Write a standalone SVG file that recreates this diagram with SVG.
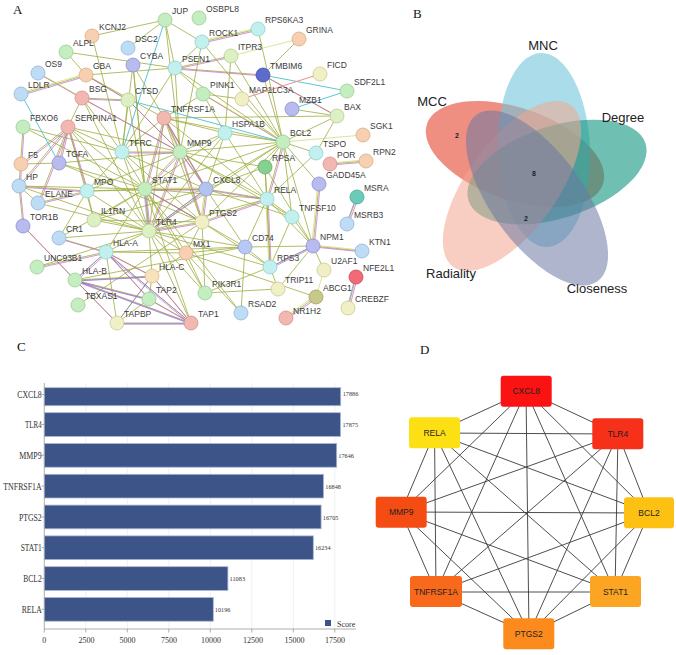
<svg xmlns="http://www.w3.org/2000/svg" width="676" height="655" viewBox="0 0 676 655">
<style>
.pl{font-family:"Liberation Serif",serif;font-size:13px;fill:#111}
.na{font-family:"Liberation Sans",Arial,sans-serif;font-size:8.5px;fill:#3a3a3a}
circle{stroke-width:0.8}
.g{fill:#c4eec0;stroke:#9ccc98}.c{fill:#c2f0ee;stroke:#90d0cc}.b{fill:#bfdcf5;stroke:#90b4d8}
.p{fill:#b8baf0;stroke:#8c90cc}.k{fill:#f3b7b2;stroke:#d09090}.o{fill:#f6d0b0;stroke:#d8ac88}
.y{fill:#f0f0c4;stroke:#ccc898}.l{fill:#dcf0c2;stroke:#b4cc98}
.eo{fill:none;stroke:#9fae3e;stroke-width:1;opacity:.8}
.em{fill:none;stroke:#c45ec8;stroke-width:.9;opacity:.75}
.ev{fill:none;stroke:#6f6fe0;stroke-width:.8;opacity:.7}
.ey{fill:none;stroke:#cbdc6a;stroke-width:.9;opacity:.8}
.ec{fill:none;stroke:#40bccc;stroke-width:1;opacity:.85}
.vl{font-family:"Liberation Sans",Arial,sans-serif;font-size:13px;fill:#222;text-anchor:middle}
.vn{font-family:"Liberation Sans",Arial,sans-serif;font-size:7px;font-weight:bold;fill:#222;text-anchor:middle}
.cl{font-family:"Liberation Serif",serif;font-size:9.5px;fill:#333}
.cv{font-family:"Liberation Serif",serif;font-size:7px;fill:#333}
.ct{font-family:"Liberation Serif",serif;font-size:8px;fill:#333;text-anchor:middle}
.bar{fill:#3c5488;stroke:#aab6d6;stroke-width:.8}
.grid{stroke:#ececec;stroke-width:.8}
.dn rect{stroke:none}
.dt{font-family:"Liberation Sans",Arial,sans-serif;font-size:8.5px;fill:#222;text-anchor:middle}
</style>
<rect width="676" height="655" fill="#fff"/>
<text class="pl" x="13" y="14">A</text>
<text class="pl" x="413" y="18">B</text>
<text class="pl" x="17" y="351">C</text>
<text class="pl" x="420" y="354">D</text>

<!-- Panel A connectors -->
<g id="a-edges">
<path class="eo" d="M92 36L165 20M92 36L122 152M165 20L175 68M165 20L202 42M165 20L180 152M165 20L128 48M202 42L258 29M202 42L175 68M202 42L180 152M202 42L283 142M299 39L263 75M231 56L175 68M231 56L283 142M231 56L225 133M175 68L263 75M175 68L122 152M175 68L180 152M175 68L283 142M66 52L175 68M66 52L86 75M38 73L82 98M86 75L175 68M86 75L128 100M86 75L164 118M21 94L86 75M82 98L128 100M82 98L122 152M82 98L180 152M82 98L149 231M133 65L122 152M133 65L149 231M133 65L206 189M133 65L145 189M128 100L122 152M128 100L180 152M128 100L145 189M164 118L122 152M164 118L180 152M164 118L145 189M164 118L206 189M164 118L202 222M164 118L149 231M164 118L267 199M164 118L283 142M164 118L225 133M164 118L203 94M164 118L337 116M23 127L122 152M23 127L145 189M23 127L19 186M68 127L59 163M68 127L21 164M68 127L19 186M68 127L87 191M68 127L38 203M68 127L122 152M68 127L180 152M68 127L145 189M68 127L149 231M68 127L94 220M82 98L68 127M19 186L23 226M19 186L87 191M19 186L38 203M19 186L149 231M19 186L145 189M21 164L59 163M87 191L38 203M87 191L145 189M87 191L149 231M87 191L59 238M87 191L94 220M87 191L122 152M87 191L180 152M87 191L206 189M38 203L149 231M23 226L75 280M59 238L106 252M59 238L149 231M59 238L145 189M37 267L106 252M37 267L149 231M106 252L75 280M106 252L152 276M106 252L191 323M106 252L149 299M106 252L117 323M106 252L145 189M106 252L149 231M106 252L245 247M106 252L186 253M75 280L152 276M75 280L191 323M75 280L149 299M75 280L117 323M75 280L245 247M152 276L191 323M152 276L149 299M152 276L117 323M149 299L191 323M149 299L117 323M117 323L191 323M78 305L202 222M145 189L149 231M145 189L206 189M145 189L202 222M145 189L180 152M145 189L267 199M145 189L283 142M145 189L186 253M145 189L241 313M145 189L205 293M145 189L94 220M145 189L122 152M145 189L225 133M145 189L245 247M145 189L191 323M149 231L206 189M149 231L202 222M149 231L180 152M149 231L267 199M149 231L186 253M149 231L205 293M149 231L94 220M149 231L122 152M149 231L225 133M149 231L283 142M149 231L245 247M149 231L270 267M149 231L191 323M149 231L152 276M206 189L202 222M206 189L180 152M206 189L267 199M206 189L283 142M206 189L265 167M206 189L225 133M206 189L292 217M206 189L245 247M206 189L94 220M206 189L122 152M180 152L202 222M180 152L267 199M180 152L283 142M180 152L225 133M180 152L122 152M180 152L265 167M180 152L292 217M202 222L267 199M202 222L283 142M202 222L270 267M202 222L186 253M202 222L205 293M267 199L283 142M267 199L265 167M267 199L292 217M267 199L313 246M267 199L270 267M267 199L245 247M267 199L225 133M283 142L337 116M283 142L316 153M283 142L225 133M283 142L203 94M283 142L242 99M283 142L265 167M283 142L292 217M283 142L319 184M283 142L313 246M283 142L258 29M283 142L263 75M263 75L337 116M203 94L242 99M203 94L225 133M203 94L175 68M316 153L267 199M316 153L337 116M330 164L366 161M319 184L313 246M357 197L347 224M292 217L313 246M292 217L270 267M313 246L362 251M313 246L270 267M313 246L324 270M313 246L245 247M313 246L278 289M313 246L265 167M316 297L286 318M186 253L316 297M356 277L348 308M270 267L265 167M270 267L245 247M270 267L278 289M241 313L186 253M241 313L245 247M205 293L270 267M205 293L278 289M205 293L186 253M186 253L152 276M186 253L245 247M59 163L180 152M59 163L145 189M59 163L202 222M94 220L202 222M122 152L202 222M292 109L337 116"/>
<path class="em" transform="translate(1.2,1)" d="M38 73L82 98M86 75L128 100M21 94L86 75M82 98L180 152M202 42L258 29M231 56L175 68M175 68L263 75M106 252L75 280M106 252L152 276M106 252L191 323M106 252L149 299M75 280L152 276M75 280L191 323M75 280L149 299M75 280L117 323M152 276L191 323M149 299L191 323M117 323L191 323M145 189L149 231M145 189L206 189M149 231L206 189M206 189L202 222M180 152L122 152M267 199L270 267M283 142L203 94M263 75L337 116M330 164L366 161M319 184L313 246M357 197L347 224M313 246L362 251M313 246L270 267M316 297L286 318M356 277L348 308M68 127L59 163M68 127L21 164M68 127L19 186M68 127L87 191M68 127L38 203M19 186L87 191M87 191L38 203M23 127L19 186M19 186L23 226M164 118L180 152M164 118L145 189M164 118L206 189M180 152L206 189M202 222L267 199M145 189L202 222M149 231L202 222M180 152L202 222M283 142L267 199M206 189L267 199M145 189L180 152M149 231L180 152M59 238L106 252M37 267L106 252M23 226L75 280M128 100L180 152M82 98L128 100"/>
<path class="ev" transform="translate(-1,0.8)" d="M106 252L75 280M75 280L152 276M75 280L191 323M106 252L191 323M152 276L117 323M75 280L149 299M117 323L191 323M145 189L149 231M206 189L149 231M313 246L270 267M356 277L348 308M357 197L347 224"/>
<path class="ey" transform="translate(-1.2,-1)" d="M38 73L82 98M21 94L86 75M202 42L258 29M330 164L366 161M313 246L362 251M316 297L286 318M319 184L313 246M283 142L203 94M267 199L270 267M164 118L180 152M145 189L206 189M206 189L202 222"/>
<path class="ey" d="M231 56L299 39M283 142L363 135M324 270L316 297"/>
<path class="ec" d="M165 20L122 152M21 94L59 163M128 100L283 142M263 75L347 91M292 109L347 91"/>
<path fill="none" stroke="#f08a8a" stroke-width="1" d="M242 99L320 74"/>
</g>

<!-- Panel A nodes -->
<g id="a-nodes">
<g id="n-JUP"><circle class="g" cx="165" cy="20" r="7"/><text class="na" x="172" y="14">JUP</text></g>
<g id="n-OSBPL8"><circle class="g" cx="199" cy="18" r="7"/><text class="na" x="206" y="12">OSBPL8</text></g>
<g id="n-RPS6KA3"><circle class="c" cx="258" cy="29" r="7"/><text class="na" x="265" y="23">RPS6KA3</text></g>
<g id="n-KCNJ2"><circle class="o" cx="92" cy="36" r="7"/><text class="na" x="99" y="30">KCNJ2</text></g>
<g id="n-ROCK1"><circle class="c" cx="202" cy="42" r="7"/><text class="na" x="209" y="36">ROCK1</text></g>
<g id="n-GRINA"><circle class="o" cx="299" cy="39" r="7"/><text class="na" x="306" y="33">GRINA</text></g>
<g id="n-DSC2"><circle class="b" cx="128" cy="48" r="7"/><text class="na" x="135" y="42">DSC2</text></g>
<g id="n-ALPL"><circle class="g" cx="66" cy="52" r="7"/><text class="na" x="73" y="46">ALPL</text></g>
<g id="n-ITPR3"><circle class="l" cx="231" cy="56" r="7"/><text class="na" x="238" y="50">ITPR3</text></g>
<g id="n-CYBA"><circle class="p" cx="133" cy="65" r="7"/><text class="na" x="140" y="59">CYBA</text></g>
<g id="n-PSEN1"><circle class="c" cx="175" cy="68" r="7"/><text class="na" x="182" y="62">PSEN1</text></g>
<g id="n-OS9"><circle class="b" cx="38" cy="73" r="7"/><text class="na" x="45" y="67">OS9</text></g>
<g id="n-GBA"><circle class="o" cx="86" cy="75" r="7"/><text class="na" x="93" y="69">GBA</text></g>
<g id="n-TMBIM6"><circle fill="#5c6ccc" stroke="#4050a8" cx="263" cy="75" r="7"/><text class="na" x="270" y="69">TMBIM6</text></g>
<g id="n-FICD"><circle class="y" cx="320" cy="74" r="7"/><text class="na" x="327" y="68">FICD</text></g>
<g id="n-SDF2L1"><circle class="g" cx="347" cy="91" r="7"/><text class="na" x="354" y="85">SDF2L1</text></g>
<g id="n-LDLR"><circle class="b" cx="21" cy="94" r="7"/><text class="na" x="28" y="88">LDLR</text></g>
<g id="n-PINK1"><circle class="g" cx="203" cy="94" r="7"/><text class="na" x="210" y="88">PINK1</text></g>
<g id="n-BSG"><circle class="k" cx="82" cy="98" r="7"/><text class="na" x="89" y="92">BSG</text></g>
<g id="n-MAP1LC3A"><circle class="y" cx="242" cy="99" r="7"/><text class="na" x="249" y="93">MAP1LC3A</text></g>
<g id="n-CTSD"><circle class="l" cx="128" cy="100" r="7"/><text class="na" x="135" y="94">CTSD</text></g>
<g id="n-MZB1"><circle class="p" cx="292" cy="109" r="7"/><text class="na" x="299" y="103">MZB1</text></g>
<g id="n-BAX"><circle class="l" cx="337" cy="116" r="7"/><text class="na" x="344" y="110">BAX</text></g>
<g id="n-TNFRSF1A"><circle class="k" cx="164" cy="118" r="7"/><text class="na" x="171" y="112">TNFRSF1A</text></g>
<g id="n-FBXO6"><circle class="g" cx="23" cy="127" r="7"/><text class="na" x="30" y="121">FBXO6</text></g>
<g id="n-SERPINA1"><circle class="k" cx="68" cy="127" r="7"/><text class="na" x="75" y="121">SERPINA1</text></g>
<g id="n-HSPA1B"><circle class="c" cx="225" cy="133" r="7"/><text class="na" x="232" y="127">HSPA1B</text></g>
<g id="n-SGK1"><circle class="o" cx="363" cy="135" r="7"/><text class="na" x="370" y="129">SGK1</text></g>
<g id="n-BCL2"><circle class="g" cx="283" cy="142" r="7"/><text class="na" x="290" y="136">BCL2</text></g>
<g id="n-TFRC"><circle class="c" cx="122" cy="152" r="7"/><text class="na" x="129" y="146">TFRC</text></g>
<g id="n-MMP9"><circle class="g" cx="180" cy="152" r="7"/><text class="na" x="187" y="146">MMP9</text></g>
<g id="n-TSPO"><circle class="c" cx="316" cy="153" r="7"/><text class="na" x="323" y="147">TSPO</text></g>
<g id="n-RPN2"><circle class="o" cx="366" cy="161" r="7"/><text class="na" x="373" y="155">RPN2</text></g>
<g id="n-POR"><circle class="k" cx="330" cy="164" r="7"/><text class="na" x="337" y="158">POR</text></g>
<g id="n-F5"><circle class="o" cx="21" cy="164" r="7"/><text class="na" x="28" y="158">F5</text></g>
<g id="n-TGFA"><circle class="p" cx="59" cy="163" r="7"/><text class="na" x="66" y="157">TGFA</text></g>
<g id="n-RPSA"><circle fill="#88d090" stroke="#60a868" cx="265" cy="167" r="7"/><text class="na" x="272" y="161">RPSA</text></g>
<g id="n-GADD45A"><circle class="p" cx="319" cy="184" r="7"/><text class="na" x="326" y="178">GADD45A</text></g>
<g id="n-HP"><circle class="b" cx="19" cy="186" r="7"/><text class="na" x="26" y="180">HP</text></g>
<g id="n-MPO"><circle class="c" cx="87" cy="191" r="7"/><text class="na" x="94" y="185">MPO</text></g>
<g id="n-STAT1"><circle class="g" cx="145" cy="189" r="7"/><text class="na" x="152" y="183">STAT1</text></g>
<g id="n-CXCL8"><circle fill="#b2c4ee" stroke="#8aa0cc" cx="206" cy="189" r="7"/><text class="na" x="213" y="183">CXCL8</text></g>
<g id="n-MSRA"><circle fill="#6ccab8" stroke="#48a898" cx="357" cy="197" r="7"/><text class="na" x="364" y="191">MSRA</text></g>
<g id="n-RELA"><circle class="c" cx="267" cy="199" r="7"/><text class="na" x="274" y="193">RELA</text></g>
<g id="n-ELANE"><circle class="b" cx="38" cy="203" r="7"/><text class="na" x="45" y="197">ELANE</text></g>
<g id="n-TNFSF10"><circle class="c" cx="292" cy="217" r="7"/><text class="na" x="299" y="211">TNFSF10</text></g>
<g id="n-IL1RN"><circle class="l" cx="94" cy="220" r="7"/><text class="na" x="101" y="214">IL1RN</text></g>
<g id="n-PTGS2"><circle class="y" cx="202" cy="222" r="7"/><text class="na" x="209" y="216">PTGS2</text></g>
<g id="n-MSRB3"><circle class="b" cx="347" cy="224" r="7"/><text class="na" x="354" y="218">MSRB3</text></g>
<g id="n-TOR1B"><circle class="p" cx="23" cy="226" r="7"/><text class="na" x="30" y="220">TOR1B</text></g>
<g id="n-TLR4"><circle class="l" cx="149" cy="231" r="7"/><text class="na" x="156" y="225">TLR4</text></g>
<g id="n-CR1"><circle class="b" cx="59" cy="238" r="7"/><text class="na" x="66" y="232">CR1</text></g>
<g id="n-CD74"><circle fill="#b8c8f4" stroke="#8ea0d0" cx="245" cy="247" r="7"/><text class="na" x="252" y="241">CD74</text></g>
<g id="n-NPM1"><circle class="p" cx="313" cy="246" r="7"/><text class="na" x="320" y="240">NPM1</text></g>
<g id="n-KTN1"><circle class="b" cx="362" cy="251" r="7"/><text class="na" x="369" y="245">KTN1</text></g>
<g id="n-HLA-A"><circle class="c" cx="106" cy="252" r="7"/><text class="na" x="113" y="246">HLA-A</text></g>
<g id="n-MX1"><circle class="o" cx="186" cy="253" r="7"/><text class="na" x="193" y="247">MX1</text></g>
<g id="n-UNC93B1"><circle class="g" cx="37" cy="267" r="7"/><text class="na" x="44" y="261">UNC93B1</text></g>
<g id="n-RPS3"><circle class="c" cx="270" cy="267" r="7"/><text class="na" x="277" y="261">RPS3</text></g>
<g id="n-U2AF1"><circle class="y" cx="324" cy="270" r="7"/><text class="na" x="331" y="264">U2AF1</text></g>
<g id="n-HLA-C"><circle fill="#f8e2bc" stroke="#d8bc90" cx="152" cy="276" r="7"/><text class="na" x="159" y="270">HLA-C</text></g>
<g id="n-NFE2L1"><circle fill="#f06a78" stroke="#c84858" cx="356" cy="277" r="7"/><text class="na" x="363" y="271">NFE2L1</text></g>
<g id="n-HLA-B"><circle class="g" cx="75" cy="280" r="7"/><text class="na" x="82" y="274">HLA-B</text></g>
<g id="n-TRIP11"><circle class="y" cx="278" cy="289" r="7"/><text class="na" x="285" y="283">TRIP11</text></g>
<g id="n-PIK3R1"><circle class="g" cx="205" cy="293" r="7"/><text class="na" x="212" y="287">PIK3R1</text></g>
<g id="n-ABCG1"><circle fill="#c8c88a" stroke="#a0a068" cx="316" cy="297" r="7"/><text class="na" x="323" y="291">ABCG1</text></g>
<g id="n-TAP2"><circle class="g" cx="149" cy="299" r="7"/><text class="na" x="156" y="293">TAP2</text></g>
<g id="n-TBXAS1"><circle class="g" cx="78" cy="305" r="7"/><text class="na" x="85" y="299">TBXAS1</text></g>
<g id="n-CREBZF"><circle class="y" cx="348" cy="308" r="7"/><text class="na" x="355" y="302">CREBZF</text></g>
<g id="n-RSAD2"><circle class="b" cx="241" cy="313" r="7"/><text class="na" x="248" y="307">RSAD2</text></g>
<g id="n-NR1H2"><circle class="k" cx="286" cy="318" r="7"/><text class="na" x="293" y="314">NR1H2</text></g>
<g id="n-TAPBP"><circle class="y" cx="117" cy="323" r="7"/><text class="na" x="124" y="317">TAPBP</text></g>
<g id="n-TAP1"><circle class="k" cx="191" cy="323" r="7"/><text class="na" x="198" y="317">TAP1</text></g>
</g>

<!-- Panel B Venn -->
<g id="venn">
<ellipse id="v-MCC" cx="515" cy="154" rx="93" ry="46" transform="rotate(19 515 154)" fill="#e3442f" opacity="0.6"/>
<ellipse id="v-MNC" cx="544" cy="150" rx="46" ry="97" transform="rotate(-2 544 150)" fill="#71c6da" opacity="0.6"/>
<ellipse id="v-Degree" cx="557" cy="172" rx="93" ry="46" transform="rotate(-18 557 172)" fill="#109580" opacity="0.6"/>
<ellipse id="v-Radiality" cx="512" cy="186" rx="100" ry="45" transform="rotate(-54 512 186)" fill="#f2a58f" opacity="0.55"/>
<ellipse id="v-Closeness" cx="537" cy="198" rx="103" ry="46" transform="rotate(54 537 198)" fill="#6b78a3" opacity="0.55"/>
<text class="vl" x="543" y="50">MNC</text>
<text class="vl" x="432" y="106">MCC</text>
<text class="vl" x="623" y="122">Degree</text>
<text class="vl" x="451" y="278">Radiality</text>
<text class="vl" x="597" y="293">Closeness</text>
<text class="vn" x="457" y="138">2</text>
<text class="vn" x="534" y="176">8</text>
<text class="vn" x="526" y="221">2</text>
</g>

<!-- Panel C bar chart -->
<g id="chart">
<g class="grid">
<line x1="85.8" y1="383" x2="85.8" y2="629"/><line x1="127.3" y1="383" x2="127.3" y2="629"/>
<line x1="168.8" y1="383" x2="168.8" y2="629"/><line x1="210.3" y1="383" x2="210.3" y2="629"/>
<line x1="251.8" y1="383" x2="251.8" y2="629"/><line x1="293.3" y1="383" x2="293.3" y2="629"/>
<line x1="334.8" y1="383" x2="334.8" y2="629"/>
</g>
<rect class="bar" x="44.3" y="387.7" width="296.4" height="18"/>
<rect class="bar" x="44.3" y="412.7" width="296.2" height="23.7"/>
<rect class="bar" x="44.3" y="443.5" width="292.4" height="23.7"/>
<rect class="bar" x="44.3" y="474.3" width="279.2" height="23.7"/>
<rect class="bar" x="44.3" y="505.1" width="276.8" height="23.7"/>
<rect class="bar" x="44.3" y="535.9" width="269" height="23.7"/>
<rect class="bar" x="44.3" y="566.7" width="183.6" height="23.7"/>
<rect class="bar" x="44.3" y="597.5" width="169" height="23.7"/>
<g stroke="#999" stroke-width="0.8">
<line x1="44.3" y1="383" x2="44.3" y2="629"/>
<line x1="44.3" y1="629" x2="356" y2="629"/>
<path fill="none" d="M41.5 394.5H44.3M41.5 424.5H44.3M41.5 455.3H44.3M41.5 486.1H44.3M41.5 517H44.3M41.5 547.7H44.3M41.5 578.5H44.3M41.5 609.3H44.3M44.3 629V632.5M85.8 629V632.5M127.3 629V632.5M168.8 629V632.5M210.3 629V632.5M251.8 629V632.5M293.3 629V632.5M334.8 629V632.5"/>
</g>
<text class="cl" x="17.3" y="397.8" textLength="24.4" lengthAdjust="spacingAndGlyphs">CXCL8</text>
<text class="cl" x="25" y="428" textLength="16.7" lengthAdjust="spacingAndGlyphs">TLR4</text>
<text class="cl" x="19.3" y="458.8" textLength="22.4" lengthAdjust="spacingAndGlyphs">MMP9</text>
<text class="cl" x="3.3" y="489.6" textLength="38.4" lengthAdjust="spacingAndGlyphs">TNFRSF1A</text>
<text class="cl" x="19" y="520.5" textLength="22.7" lengthAdjust="spacingAndGlyphs">PTGS2</text>
<text class="cl" x="20.7" y="551.2" textLength="21" lengthAdjust="spacingAndGlyphs">STAT1</text>
<text class="cl" x="23.3" y="582" textLength="18.4" lengthAdjust="spacingAndGlyphs">BCL2</text>
<text class="cl" x="21.7" y="612.8" textLength="20" lengthAdjust="spacingAndGlyphs">RELA</text>
<text class="cv" x="342.7" y="395.8" textLength="15.6" lengthAdjust="spacingAndGlyphs">17886</text>
<text class="cv" x="342.5" y="426.5" textLength="15.6" lengthAdjust="spacingAndGlyphs">17875</text>
<text class="cv" x="338.3" y="457.8" textLength="15.6" lengthAdjust="spacingAndGlyphs">17646</text>
<text class="cv" x="325.3" y="488.6" textLength="15.6" lengthAdjust="spacingAndGlyphs">16848</text>
<text class="cv" x="322.8" y="519.5" textLength="15.6" lengthAdjust="spacingAndGlyphs">16705</text>
<text class="cv" x="315" y="550.2" textLength="15.6" lengthAdjust="spacingAndGlyphs">16234</text>
<text class="cv" x="229.5" y="581" textLength="15.6" lengthAdjust="spacingAndGlyphs">11083</text>
<text class="cv" x="214.8" y="611.8" textLength="15.6" lengthAdjust="spacingAndGlyphs">10196</text>
<text class="ct" x="44.3" y="643">0</text>
<text class="ct" x="86.5" y="643">2500</text>
<text class="ct" x="127.5" y="643">5000</text>
<text class="ct" x="169" y="643">7500</text>
<text class="ct" x="211" y="643">10000</text>
<text class="ct" x="253" y="643">12500</text>
<text class="ct" x="294.5" y="643">15000</text>
<text class="ct" x="335" y="643">17500</text>
<rect x="325" y="620" width="6" height="6" fill="#3c5488"/>
<text class="cv" x="337" y="626.5" style="font-size:8px">Score</text>
</g>

<!-- Panel D network -->
<g id="d-edges" stroke="#3a3a3a" stroke-width="0.9" fill="none">
<path d="M526 391L618 434M526 391L649 513M526 391L615 592M526 391L529 634M526 391L436 592M526 391L401 512M526 391L434.5 433M618 434L649 513M618 434L615 592M618 434L529 634M618 434L436 592M618 434L401 512M618 434L434.5 433M649 513L615 592M649 513L529 634M649 513L436 592M649 513L401 512M649 513L434.5 433M615 592L529 634M615 592L436 592M615 592L401 512M615 592L434.5 433M529 634L436 592M529 634L401 512M529 634L434.5 433M436 592L401 512M436 592L434.5 433M401 512L434.5 433"/>
</g>
<g class="dn">
<g id="d-CXCL8"><rect x="500.7" y="375.7" width="51" height="31" rx="3" fill="#fb1313"/><text class="dt" x="526.2" y="394.3">CXCL8</text></g>
<g id="d-TLR4"><rect x="592.3" y="418.3" width="51" height="31" rx="3" fill="#f7301a"/><text class="dt" x="617.8" y="436.9">TLR4</text></g>
<g id="d-BCL2"><rect x="624" y="497.3" width="50" height="31" rx="3" fill="#fdc114"/><text class="dt" x="649" y="515.9">BCL2</text></g>
<g id="d-STAT1"><rect x="590" y="576" width="51" height="31" rx="3" fill="#fca523"/><text class="dt" x="615.5" y="594.6">STAT1</text></g>
<g id="d-PTGS2"><rect x="503.3" y="618.3" width="51" height="31" rx="3" fill="#fc8a1c"/><text class="dt" x="528.8" y="636.9">PTGS2</text></g>
<g id="d-TNFRSF1A"><rect x="410" y="576" width="52" height="31" rx="3" fill="#f8691c"/><text class="dt" x="436" y="594.6">TNFRSF1A</text></g>
<g id="d-MMP9"><rect x="375.7" y="496.7" width="51" height="31" rx="3" fill="#f54c14"/><text class="dt" x="401.2" y="515.3">MMP9</text></g>
<g id="d-RELA"><rect x="409" y="417.3" width="51" height="31" rx="3" fill="#fde014"/><text class="dt" x="434.5" y="435.9">RELA</text></g>
</g>
</svg>
